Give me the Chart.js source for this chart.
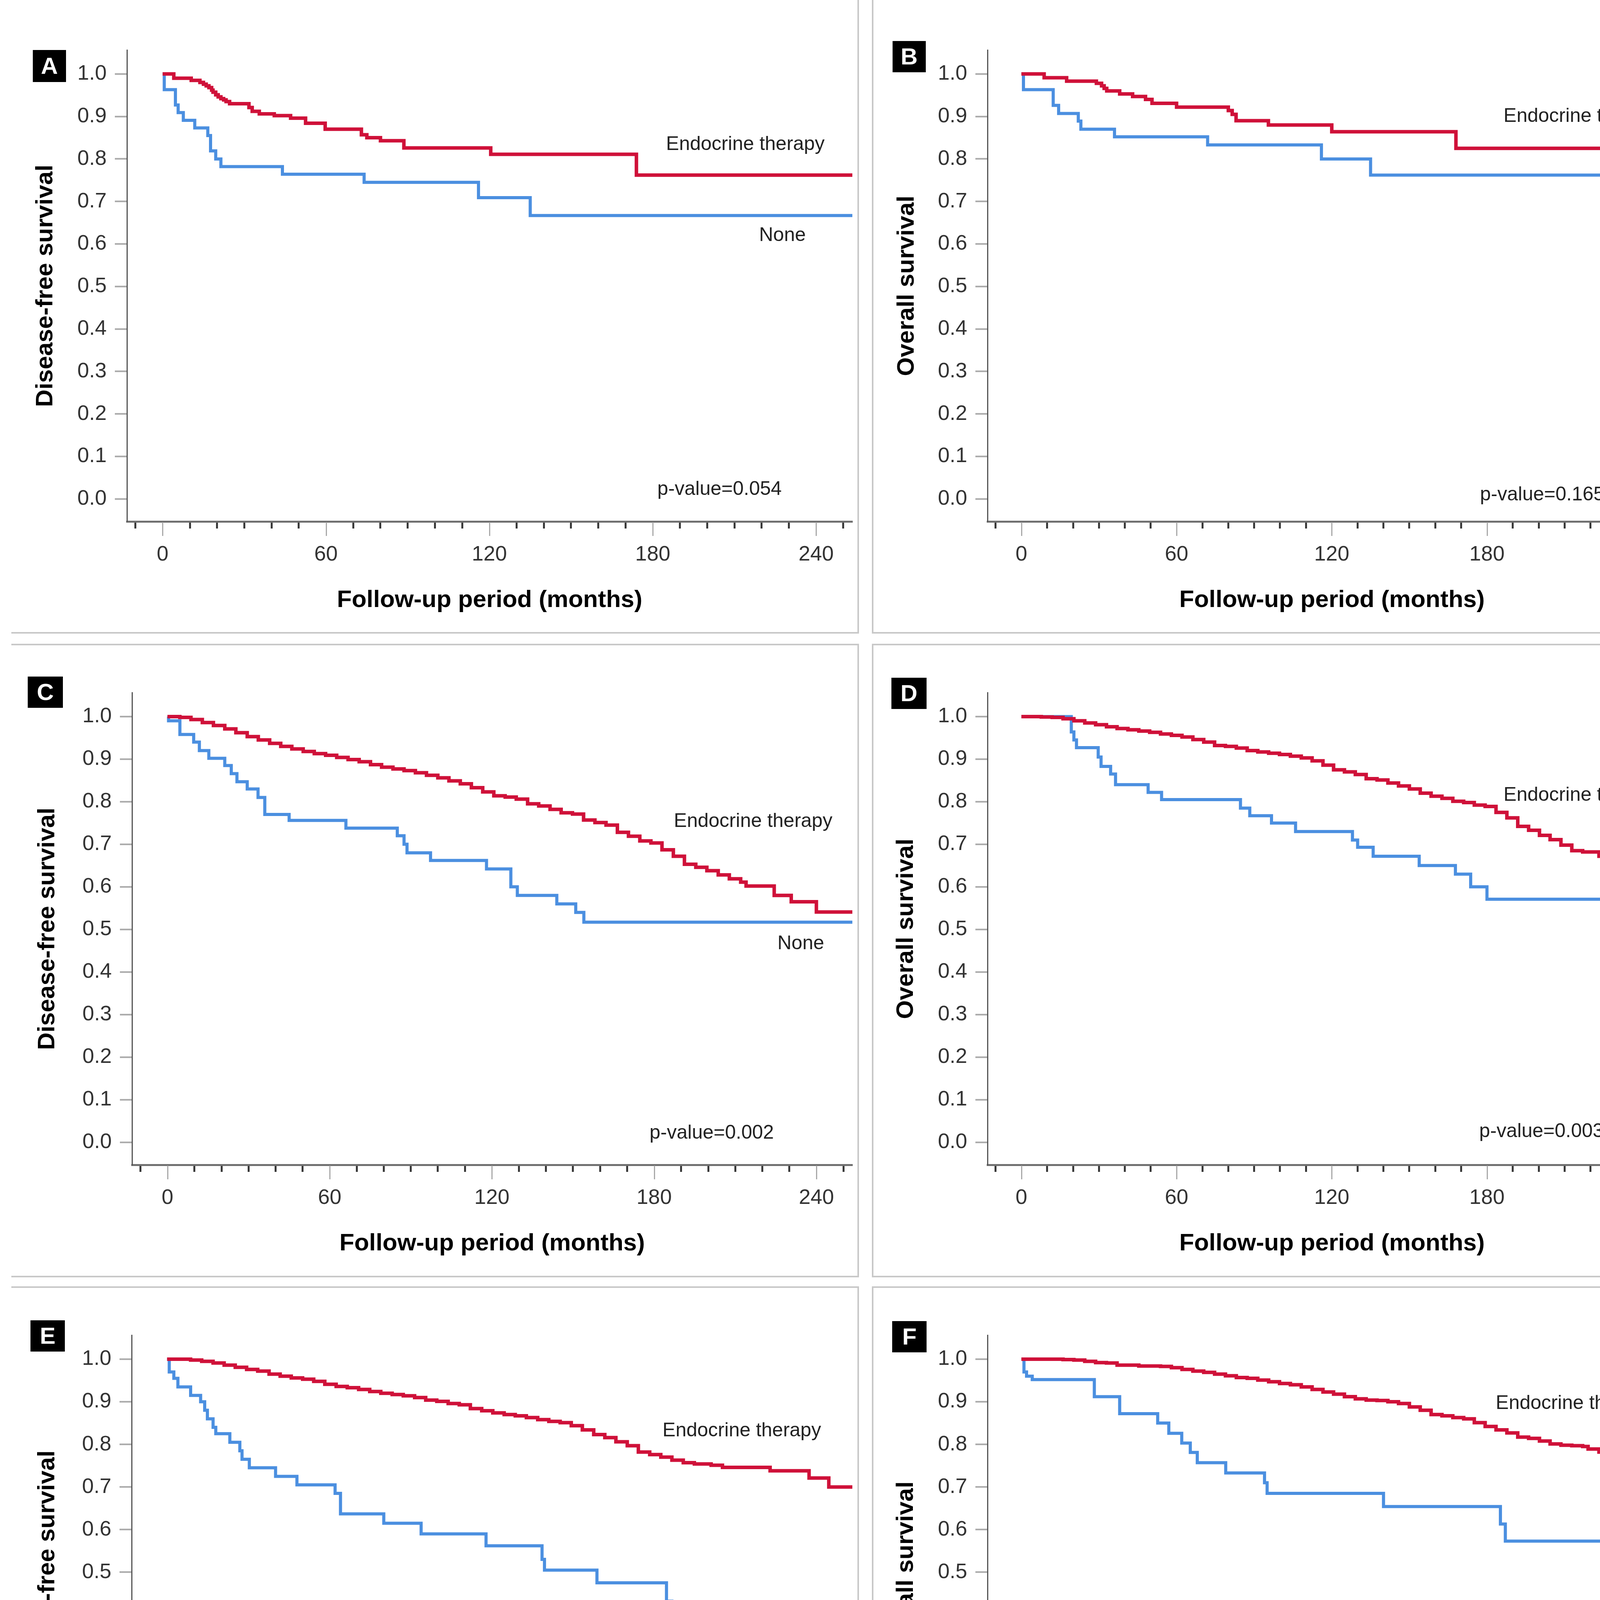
<!DOCTYPE html>
<html><head><meta charset="utf-8">
<script src="https://cdn.jsdelivr.net/npm/chart.js@4.4.1/dist/chart.umd.min.js"></script>
<style>
html,body{margin:0;padding:0;background:#fff;}
#page{position:relative;width:4424px;height:4954px;overflow:hidden;background:#fff;font-family:"Liberation Sans",Arial,sans-serif;}
canvas{position:absolute;}
.lbl{position:absolute;transform:translate(-50%,-50%);white-space:nowrap;font-size:50px;color:#222;line-height:1;}
.tag{position:absolute;background:#000;color:#fff;font-weight:bold;font-size:60px;display:flex;align-items:center;justify-content:center;line-height:1;}
.ln{position:absolute;background:#c8c8c8;}
</style></head><body><div id="page"></div>
<script>
// ---------- DATA (Kaplan-Meier steps: time in months, survival) ----------
const aEndoT = [0, 4.1, 10.5, 13.7, 15, 16, 17, 18, 18.5, 19.5, 20.4, 21.4, 22.4, 23.3, 24.6, 31.7, 32.9, 35.5, 41, 47, 52.5, 59.7, 73, 75, 80, 88.6, 120.5, 174, 253.3];
const aEndoS = [1.000, 0.990, 0.985, 0.980, 0.976, 0.972, 0.968, 0.962, 0.957, 0.951, 0.946, 0.942, 0.939, 0.935, 0.930, 0.921, 0.912, 0.906, 0.902, 0.896, 0.884, 0.870, 0.857, 0.850, 0.843, 0.826, 0.811, 0.762, 0.762];
const aNoneT = [0, 0.6, 4.7, 5.7, 7.6, 11.8, 16.6, 17.6, 19.5, 21.4, 44, 74, 116, 135, 253.3];
const aNoneS = [1.000, 0.963, 0.927, 0.909, 0.891, 0.873, 0.855, 0.819, 0.800, 0.782, 0.764, 0.745, 0.709, 0.667, 0.667];

const bEndoT = [0, 8.8, 17.5, 29, 31, 32, 33, 38, 43, 48, 50.5, 60, 80, 81.5, 83, 95.5, 120, 168, 253.3];
const bEndoS = [1.000, 0.991, 0.983, 0.978, 0.972, 0.966, 0.960, 0.953, 0.947, 0.940, 0.931, 0.922, 0.914, 0.905, 0.890, 0.880, 0.864, 0.825, 0.825];
const bNoneT = [0, 0.8, 12.3, 14.4, 22, 23, 36, 72, 116, 135, 253.3];
const bNoneS = [1.000, 0.963, 0.926, 0.907, 0.889, 0.870, 0.852, 0.833, 0.800, 0.762, 0.762];

const cEndoT = [0, 4.6, 8.7, 12.9, 17, 21.2, 25.3, 29.5, 33.6, 37.8, 41.9, 46, 50.2, 54.3, 58.5, 62.6, 66.8, 70.9, 75.1, 79.2, 83.4, 87.5, 91.7, 95.8, 100, 104.1, 108.3, 112.4, 116.6, 120.7, 124.9, 129, 133.2, 137.3, 141.5, 145.6, 149.8, 153.9, 158.1, 162.2, 166.4, 170.5, 174.7, 178.8, 182.9, 187.1, 191.2, 195.4, 199.5, 203.7, 207.8, 212, 214, 224.4, 230.7, 240, 253.3];
const cEndoS = [1.000, 0.998, 0.993, 0.986, 0.979, 0.971, 0.962, 0.953, 0.945, 0.937, 0.930, 0.924, 0.918, 0.913, 0.909, 0.904, 0.899, 0.894, 0.887, 0.881, 0.877, 0.873, 0.868, 0.862, 0.856, 0.849, 0.842, 0.833, 0.823, 0.814, 0.811, 0.806, 0.795, 0.790, 0.782, 0.774, 0.771, 0.757, 0.751, 0.745, 0.728, 0.719, 0.708, 0.703, 0.687, 0.672, 0.653, 0.646, 0.638, 0.628, 0.619, 0.611, 0.602, 0.580, 0.565, 0.541, 0.541];
const cNoneT = [0, 0.4, 4.6, 9.7, 11.8, 15.3, 21.2, 23.6, 25.7, 29.5, 33.5, 36, 45, 66, 85, 87.5, 88.6, 97.3, 118, 127, 129.4, 144, 151, 154, 253.3];
const cNoneS = [1.000, 0.990, 0.958, 0.940, 0.920, 0.902, 0.885, 0.866, 0.847, 0.830, 0.810, 0.770, 0.756, 0.738, 0.720, 0.700, 0.680, 0.662, 0.642, 0.600, 0.580, 0.560, 0.540, 0.517, 0.517];

const dEndoT = [0, 7.7, 11.9, 16.1, 20.3, 24.5, 28.7, 32.9, 37, 41.2, 45.4, 49.6, 53.8, 58, 62.1, 66.3, 70.5, 74.7, 78.9, 83.1, 87.3, 91.4, 95.6, 99.8, 104, 108.2, 112.4, 116.6, 120.7, 124.9, 129.1, 133.3, 137.5, 141.7, 145.8, 150, 154.2, 158.4, 162.6, 166.8, 171, 175.1, 179.3, 183.5, 187.7, 191.9, 196.1, 200.3, 204.4, 208.6, 212.8, 217, 223.3, 230.6, 235.8, 241, 244.2, 253.3];
const dEndoS = [1.000, 0.999, 0.998, 0.995, 0.990, 0.985, 0.981, 0.976, 0.972, 0.969, 0.966, 0.963, 0.959, 0.956, 0.952, 0.946, 0.940, 0.932, 0.930, 0.926, 0.920, 0.917, 0.914, 0.911, 0.907, 0.903, 0.896, 0.886, 0.875, 0.870, 0.864, 0.854, 0.851, 0.844, 0.837, 0.830, 0.820, 0.813, 0.808, 0.801, 0.798, 0.792, 0.789, 0.775, 0.762, 0.742, 0.733, 0.721, 0.711, 0.698, 0.685, 0.682, 0.672, 0.658, 0.640, 0.619, 0.591, 0.591];
const dNoneT = [0, 19.3, 20.3, 21.3, 29.7, 30.8, 34.5, 36.4, 49, 54.2, 84.7, 88.3, 96.7, 106, 128, 130, 136, 153.8, 167.8, 173.7, 180, 253.3];
const dNoneS = [1.000, 0.964, 0.945, 0.927, 0.905, 0.883, 0.865, 0.840, 0.822, 0.805, 0.785, 0.767, 0.750, 0.730, 0.710, 0.693, 0.672, 0.650, 0.630, 0.600, 0.571, 0.571];

const eEndoT = [0, 8.7, 12.8, 17, 21.1, 25.2, 29.4, 33.5, 37.7, 41.8, 45.9, 50.1, 54.2, 58.3, 62.5, 66.6, 70.8, 74.9, 79, 83.2, 87.3, 91.5, 95.6, 99.7, 103.9, 108, 112.1, 116.3, 120.4, 124.6, 128.7, 132.8, 137, 141.1, 145.3, 149.4, 153.5, 157.7, 161.8, 165.9, 170.1, 174.2, 178.4, 182.5, 186.6, 190.8, 194.9, 201.1, 205.3, 222.9, 237.3, 244.6, 253.3];
const eEndoS = [1.000, 0.998, 0.995, 0.991, 0.986, 0.981, 0.976, 0.972, 0.965, 0.960, 0.956, 0.953, 0.948, 0.941, 0.936, 0.933, 0.929, 0.924, 0.920, 0.917, 0.914, 0.910, 0.904, 0.901, 0.896, 0.893, 0.884, 0.879, 0.874, 0.870, 0.867, 0.863, 0.858, 0.854, 0.851, 0.844, 0.834, 0.823, 0.816, 0.806, 0.797, 0.782, 0.776, 0.770, 0.763, 0.757, 0.754, 0.751, 0.746, 0.738, 0.721, 0.700, 0.700];
const eNoneT = [0, 0.8, 2.5, 4, 8.7, 12.4, 13.9, 14.9, 17, 18, 23.2, 26.9, 27.7, 30.4, 40.1, 48, 62.1, 64.1, 80.1, 93.9, 117.9, 138.6, 139.5, 158.9, 184.6, 186.6, 253.3];
const eNoneS = [1.000, 0.970, 0.955, 0.935, 0.915, 0.900, 0.880, 0.860, 0.840, 0.825, 0.805, 0.785, 0.765, 0.745, 0.725, 0.705, 0.685, 0.637, 0.615, 0.590, 0.562, 0.530, 0.505, 0.475, 0.432, 0.390, 0.390];

const fEndoT = [0, 16.1, 20.3, 24.5, 28.7, 32.9, 37, 45.4, 53.8, 58, 62.1, 66.3, 70.5, 74.7, 78.9, 83.1, 87.3, 91.4, 95.6, 99.8, 104, 108.2, 112.4, 116.6, 120.7, 124.9, 129.1, 133.3, 137.5, 141.7, 145.8, 150, 154.2, 158.4, 162.6, 166.8, 171, 175.1, 179.3, 183.5, 187.7, 191.9, 196.1, 200.3, 204.4, 208.6, 212.8, 217, 219.1, 223.3, 235.8, 237.9, 242.1, 244.2, 245.3, 253.3];
const fEndoS = [1.000, 0.999, 0.998, 0.995, 0.992, 0.991, 0.986, 0.984, 0.983, 0.980, 0.976, 0.972, 0.969, 0.965, 0.961, 0.957, 0.955, 0.951, 0.947, 0.943, 0.940, 0.935, 0.929, 0.923, 0.918, 0.912, 0.907, 0.904, 0.903, 0.900, 0.896, 0.888, 0.880, 0.870, 0.867, 0.863, 0.860, 0.851, 0.842, 0.834, 0.827, 0.817, 0.814, 0.808, 0.801, 0.798, 0.797, 0.795, 0.789, 0.782, 0.773, 0.761, 0.759, 0.745, 0.726, 0.726];
const fNoneT = [0, 1, 2, 4.2, 28.2, 38, 52.7, 57, 62, 65.3, 68, 79, 94, 95, 140, 185.2, 187.1, 253.3];
const fNoneS = [1.000, 0.970, 0.960, 0.952, 0.912, 0.872, 0.850, 0.826, 0.803, 0.781, 0.757, 0.733, 0.710, 0.685, 0.654, 0.613, 0.573, 0.573];

const panelLetters = ['A', 'B', 'C', 'D', 'E', 'F'];
const yTitles = ['Disease-free survival', 'Overall survival', 'Disease-free survival', 'Overall survival', 'Disease-free survival', 'Overall survival'];
const pValues = ['p-value=0.054', 'p-value=0.165', 'p-value=0.002', 'p-value=0.003', 'p-value<0.001', 'p-value<0.001'];
const groupLabels = ['Endocrine therapy', 'None'];
const xTitle = 'Follow-up period (months)';
const xMajorLabels = [0, 60, 120, 180, 240];

// ---------- STYLE / LAYOUT ----------
const FONT = '"Liberation Sans", Arial, sans-serif';
const RED = '#cf1139', BLUE = '#4b8fe0';
const X_MIN = -13.1, X_MAX = 253.3, Y_MIN = -0.053, Y_MAX = 1.056;
const YW = 295, XH = 280, PAD_TOP = 40, PAD_RIGHT = 20;
const TITLE_SIZE = 62, TITLE_LH = 1.2;
const TICK_SIZE = 54;

const geo = [
  {l: 325, r: 2182, t: 115, b: 1335, ytx: 117, xty: 1537, tag: [84, 128, 85, 82], endo: [1908, 367], none: [2003, 600], p: [1842, 1250]},
  {l: 2528, r: 4292, t: 115, b: 1335, ytx: 2322, xty: 1537, tag: [2285, 105, 85, 80], endo: [4052, 295], none: [4202, 496], p: [3948, 1264]},
  {l: 338, r: 2182, t: 1760, b: 2982, ytx: 122, xty: 3184, tag: [71, 1732, 90, 80], endo: [1928, 2100], none: [2050, 2413], p: [1822, 2898]},
  {l: 2528, r: 4292, t: 1760, b: 2982, ytx: 2320, xty: 3184, tag: [2282, 1735, 90, 80], endo: [4052, 2033], none: [4156, 2344], p: [3946, 2894]},
  {l: 337, r: 2182, t: 3405, b: 4628, ytx: 122, xty: 4828, tag: [78, 3380, 88, 80], endo: [1899, 3660], none: [2051, 4189], p: [1824, 4540]},
  {l: 2528, r: 4292, t: 3405, b: 4628, ytx: 2320, xty: 4828, tag: [2284, 3382, 88, 80], endo: [4032, 3590], none: [4163, 3987], p: [3958, 4554]}
];
const series = [
  [aEndoT, aEndoS, aNoneT, aNoneS], [bEndoT, bEndoS, bNoneT, bNoneS], [cEndoT, cEndoS, cNoneT, cNoneS],
  [dEndoT, dEndoS, dNoneT, dNoneS], [eEndoT, eEndoS, eNoneT, eNoneS], [fEndoT, fEndoS, fNoneT, fNoneS]
];
const lines = [
  [2195, 0, 4, 1620], [29, 1618, 2170, 4], [2232, 0, 4, 1620], [4306, 0, 4, 1620], [2232, 1618, 2078, 4],
  [29, 1648, 2170, 4], [2195, 1648, 4, 1620], [29, 3266, 2170, 4],
  [2232, 1648, 2088, 4], [2232, 1648, 4, 1620], [4316, 1648, 4, 1620], [2232, 3266, 2088, 4],
  [29, 3293, 2170, 4], [2195, 3293, 4, 1661], [2232, 3293, 2088, 4], [2232, 3293, 4, 1661]
];

const page = document.getElementById('page');
function addDiv(cls, x, y, w, h, text) {
  const d = document.createElement('div');
  d.className = cls;
  d.style.left = x + 'px'; d.style.top = y + 'px';
  if (w !== undefined) { d.style.width = w + 'px'; d.style.height = h + 'px'; }
  if (text !== undefined) d.textContent = text;
  page.appendChild(d);
  return d;
}
lines.forEach(([x, y, w, h]) => addDiv('ln', x, y, w, h));

const pts = (t, s) => t.map((x, i) => ({x: x, y: s[i]}));
const isMajor = v => v >= 0 && Math.abs(v % 60) < 1e-9;

// longer, lighter major tick marks at the labelled months (SPSS style)
const majorTicks = {
  id: 'majorTicks',
  afterDraw(chart) {
    const s = chart.scales.x, ctx = chart.ctx;
    ctx.save();
    ctx.strokeStyle = '#a9a9a9';
    ctx.lineWidth = 3;
    ctx.beginPath();
    xMajorLabels.forEach(v => {
      const px = Math.round(s.getPixelForValue(v)) + 0.5;
      ctx.moveTo(px, s.top + 2);
      ctx.lineTo(px, s.top + 37);
    });
    ctx.stroke();
    ctx.restore();
  }
};

geo.forEach((g, i) => {
  const cw = YW + (g.r - g.l) + PAD_RIGHT;
  const ch = PAD_TOP + (g.b - g.t) + XH;
  const cl = g.l - YW, ct = g.t - PAD_TOP;
  const cv = document.createElement('canvas');
  cv.width = cw; cv.height = ch;
  cv.style.left = cl + 'px'; cv.style.top = ct + 'px';
  cv.style.width = cw + 'px'; cv.style.height = ch + 'px';
  page.appendChild(cv);
  const halfLH = TITLE_SIZE * TITLE_LH / 2;
  const yTitlePad = g.ytx - cl - halfLH;
  const xTitlePad = (ct + ch) - g.xty - halfLH;
  const [eT, eS, nT, nS] = series[i];
  new Chart(cv, {
    type: 'line',
    data: {datasets: [
      {label: groupLabels[0], data: pts(eT, eS), borderColor: RED, backgroundColor: RED, borderWidth: 9, stepped: true, pointRadius: 0, fill: false, borderCapStyle: 'butt', borderJoinStyle: 'miter'},
      {label: groupLabels[1], data: pts(nT, nS), borderColor: BLUE, backgroundColor: BLUE, borderWidth: 8, stepped: true, pointRadius: 0, fill: false, borderCapStyle: 'butt', borderJoinStyle: 'miter'}
    ]},
    plugins: [majorTicks],
    options: {
      responsive: false, animation: false, devicePixelRatio: 1,
      layout: {padding: {top: PAD_TOP, right: PAD_RIGHT, left: 0, bottom: 0}},
      plugins: {legend: {display: false}, tooltip: {enabled: false}},
      scales: {
        x: {
          type: 'linear', min: X_MIN, max: X_MAX,
          afterFit: s => { s.height = XH; },
          border: {display: true, color: '#707070', width: 5},
          grid: {display: true, drawOnChartArea: false, drawTicks: true, tickLength: 18,
                 tickColor: c => (c.tick && isMajor(c.tick.value)) ? 'rgba(0,0,0,0)' : '#3a3a3a',
                 tickWidth: 5},
          ticks: {stepSize: 10, autoSkip: false, maxRotation: 0, minRotation: 0, includeBounds: false, padding: 35,
                  color: '#333', font: {family: FONT, size: TICK_SIZE, lineHeight: 1.2},
                  callback: v => (isMajor(v) && xMajorLabels.includes(Math.round(v))) ? String(Math.round(v)) : ''},
          title: {display: true, text: xTitle, color: '#000', font: {family: FONT, size: TITLE_SIZE, weight: 'bold', lineHeight: TITLE_LH}, padding: {top: 0, bottom: xTitlePad}}
        },
        y: {
          type: 'linear', min: Y_MIN, max: Y_MAX,
          afterFit: s => { s.width = YW; },
          border: {display: true, color: '#555', width: 3},
          grid: {display: true, drawOnChartArea: false, drawTicks: true, tickLength: 31, tickColor: '#a8a8a8', tickWidth: 4},
          ticks: {stepSize: 0.1, includeBounds: false, padding: 21, color: '#333', font: {family: FONT, size: TICK_SIZE, lineHeight: 1.2},
                  callback: v => Math.abs(v).toFixed(1)},
          title: {display: true, text: yTitles[i], color: '#000', font: {family: FONT, size: TITLE_SIZE, weight: 'bold', lineHeight: TITLE_LH}, padding: {top: yTitlePad, bottom: 0}}
        }
      }
    }
  });
  addDiv('tag', g.tag[0], g.tag[1], g.tag[2], g.tag[3], panelLetters[i]);
  addDiv('lbl', g.endo[0], g.endo[1], undefined, undefined, groupLabels[0]);
  addDiv('lbl', g.none[0], g.none[1], undefined, undefined, groupLabels[1]);
  addDiv('lbl', g.p[0], g.p[1], undefined, undefined, pValues[i]);
});
</script>
</body></html>
